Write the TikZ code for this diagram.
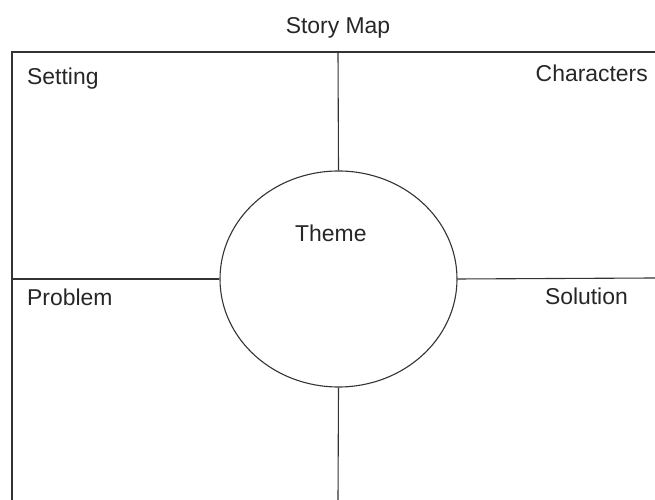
\documentclass[tikz,border=0pt]{standalone}
\usepackage{fontspec}
\setmainfont{Liberation Sans}
\usetikzlibrary{shapes.geometric}
\begin{document}
\begin{tikzpicture}[x=1bp,y=1bp,
  gridline/.style={draw=black!80,line width=1.1bp},
  lbl/.style={anchor=base west,inner sep=0pt,text=black!85,font=\fontsize{23}{27}\selectfont}]
\useasboundingbox (0,0) rectangle (655,500);
% frame
\coordinate (bl) at (12,0);
\coordinate (tl) at (12,448);
\coordinate (tr) at (655,448);
\coordinate (tm) at (338,448);
\coordinate (bm) at (338,0);
\coordinate (ml) at (12,221);
\coordinate (mr) at (655,222);
\node[gridline,ellipse,minimum width=237bp,minimum height=216bp,inner sep=0pt] (circ) at (338.5,221) {};
\draw[gridline] (bl) -- (tl) -- (tr);
\draw[gridline] (tm) -- (circ.north);
\draw[gridline] (circ.south) -- (bm);
\draw[gridline] (ml) -- (circ.west);
\draw[gridline] (circ.east) -- (mr);
% labels
\node[lbl,anchor=base] (title) at (338,466) {Story Map};
\node[lbl] (setting) at (27,415) {Setting};
\node[lbl,anchor=base east] (chars) at (648,418) {Characters};
\node[lbl] (problem) at (27,194) {Problem};
\node[lbl,anchor=base east] (solution) at (628,195) {Solution};
\node[lbl] (theme) at (295,258) {Theme};
\end{tikzpicture}
\end{document}
